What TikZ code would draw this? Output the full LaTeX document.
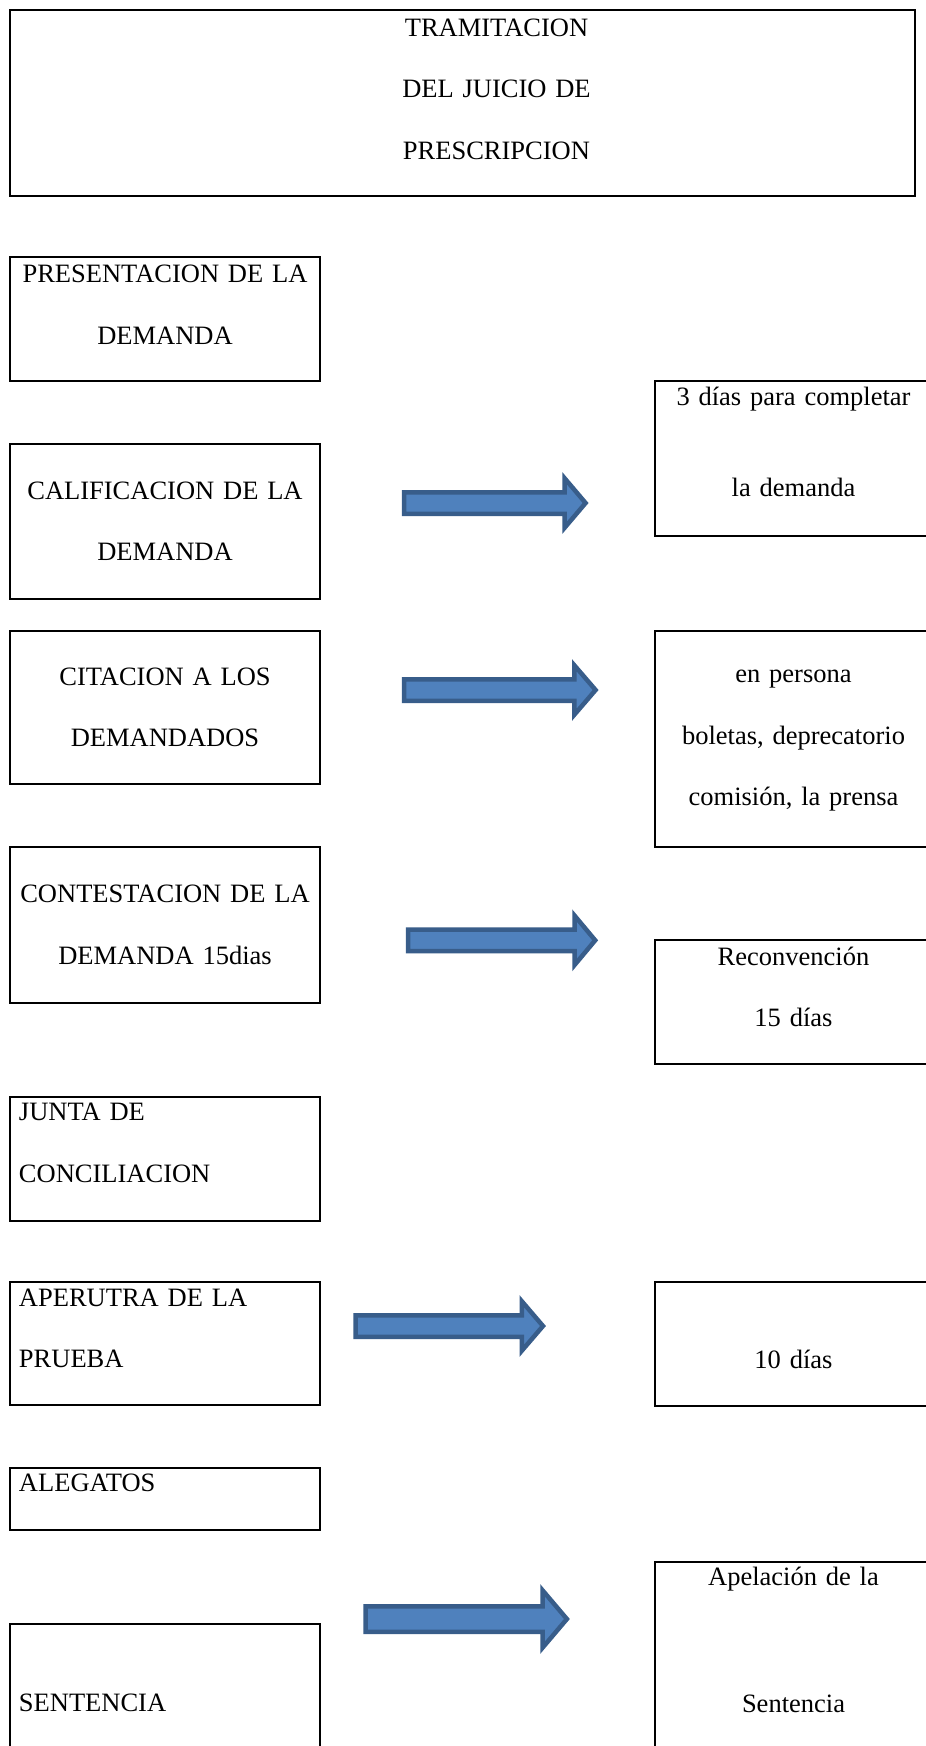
\documentclass[tikz,border=0pt]{standalone}
\usepackage{fontspec}
\setmainfont{Liberation Serif}
\usepackage{xcolor}
\definecolor{mazul}{RGB}{79,129,189}
\definecolor{mborde}{RGB}{56,93,138}
\newcommand{\cajafont}{\fontsize{26.5pt}{61.5pt}\selectfont}

\begin{document}
\begin{tikzpicture}[x=1pt, y=-1pt,
    caja/.style={draw, line width=2.2pt, anchor=north west, outer sep=0pt, inner ysep=0pt, inner xsep=9pt, font=\cajafont},
    paso/.style={caja, text width=292pt, align=center},
    pasoizq/.style={paso, align=left},
    nota/.style={caja, text width=259pt, align=center},
    bloque/.style={draw=mborde, fill=mazul, line width=4.5pt},
    pics/flecha/.style args={#1/#2/#3/#4}{code={
        \draw[bloque] (0,-#3) -- ({#1-#2},-#3) -- ({#1-#2},-#4) -- (#1,0)
            -- ({#1-#2},#4) -- ({#1-#2},#3) -- (0,#3) -- cycle;
    }},
]
    \path[use as bounding box, fill=white] (0,0) rectangle (926,1746);

    % title
    \node[caja, text width=887pt, align=center, text height=26pt, text depth=160pt] (titulo) at (10,10)
        {\hspace*{68pt}TRAMITACION\\\hspace*{68pt}DEL JUICIO DE\\\hspace*{68pt}PRESCRIPCION};

    % steps of the trial
    \node[paso, text height=26pt, text depth=98pt] (presenta) at (10,256.7) {PRESENTACION DE LA\\DEMANDA};
    \node[paso, text height=55pt, text depth=100pt] (califica) at (10,444) {CALIFICACION DE LA\\DEMANDA};
    \node[paso, text height=54pt, text depth=99.3pt] (cita) at (10,631) {CITACION A LOS\\DEMANDADOS};
    \node[paso, text height=55.4pt, text depth=100.6pt] (contesta) at (10,847.3) {CONTESTACION DE LA\\DEMANDA 15dias};
    \node[pasoizq, text height=24pt, text depth=100pt] (junta) at (10,1096.7) {JUNTA DE\\CONCILIACION};
    \node[pasoizq, text height=24.3pt, text depth=99pt] (apertura) at (10,1281.7) {APERUTRA DE LA\\PRUEBA};
    \node[pasoizq, text height=24pt, text depth=38.3pt] (alegatos) at (10,1467.7) {ALEGATOS};
    \node[pasoizq, text height=87.7pt, text depth=60pt] (sentencia) at (10,1624) {SENTENCIA};

    % notes on the right
    \node[nota, text height=24.3pt, text depth=131pt] (plazo) at (655,380.7) {3 días para completar\\[30.2pt]la demanda};
    \node[nota, text height=51.7pt, text depth=164pt] (formas) at (655,631) {en persona\\boletas, deprecatorio\\comisión, la prensa};
    \node[nota, text height=25pt, text depth=99.3pt] (reconv) at (655,940) {Reconvención\\15 días};
    \node[nota, text height=86.6pt, text depth=37.4pt] (termino) at (655,1281.7) {10 días};
    \node[nota, text height=24pt, text depth=200pt] (apela) at (655,1561.7) {Apelación de la\\[65pt]Sentencia};

    % block arrows
    \pic (f1) at (404,503) {flecha=181.6/21/10.75/24.75};
    \pic (f2) at (404,690) {flecha=191.6/21.3/10.75/24.75};
    \pic (f3) at (408.2,940.3) {flecha=187/20.7/10.75/24.75};
    \pic (f4) at (355.5,1326) {flecha=187.5/21.2/10.75/24.75};
    \pic (f5) at (365.5,1619) {flecha=201.4/24.4/12.75/28.75};

\end{tikzpicture}
\end{document}
